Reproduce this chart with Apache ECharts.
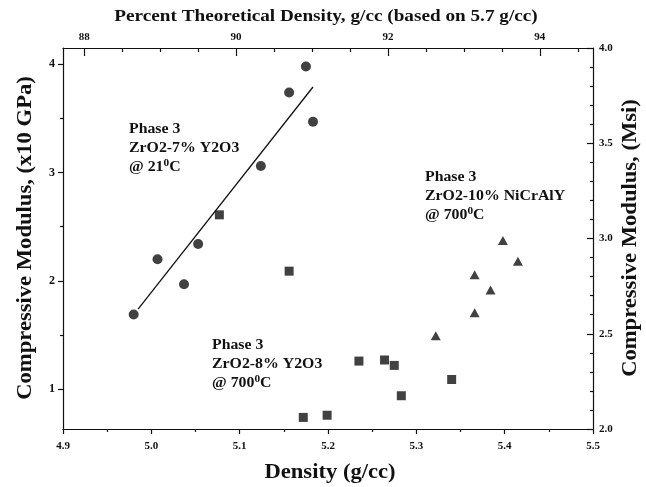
<!DOCTYPE html>
<html><head><meta charset="utf-8">
<script src="https://cdn.jsdelivr.net/npm/echarts@6/dist/echarts.min.js"></script>
<style>html,body{margin:0;padding:0;background:#fff}#c{width:646px;height:487px}</style>
</head><body><div id="c"></div>
<script>
// Phase 3 ZrO2-7% Y2O3 @ 21 C (circles)
const circleX = [4.980, 5.007, 5.037, 5.053, 5.124, 5.156, 5.175, 5.183];
const circleY = [1.69, 2.20, 1.97, 2.34, 3.06, 3.74, 3.98, 3.47];
// Phase 3 ZrO2-8% Y2O3 @ 700 C (squares)
const squareX = [5.077, 5.156, 5.172, 5.199, 5.235, 5.264, 5.275, 5.283, 5.340];
const squareY = [2.61, 2.09, 0.74, 0.76, 1.26, 1.27, 1.22, 0.94, 1.09];
// Phase 3 ZrO2-10% NiCrAlY @ 700 C (triangles, right axis Msi)
const triX = [5.322, 5.366, 5.366, 5.384, 5.398, 5.415];
const triMsi = [2.49, 2.61, 2.81, 2.73, 2.99, 2.88];
// fitted line endpoints
const fitX = [4.985, 5.183];
const fitY = [1.74, 3.79];
// tick labels
const topLabels = [88, 90, 92, 94];
const topMinor = [88.5, 89, 89.5, 90.5, 91, 91.5, 92.5, 93, 93.5, 94.5];
const leftLabels = [1, 2, 3, 4];
const leftMinor = [1.5, 2.5, 3.5];

const zip = (a, b) => a.map((v, i) => [v, b[i]]);
const INK = '#111';
const SERIF = '"Liberation Serif", "Times New Roman", serif';
const lineStyle = { color: INK, width: 1.2 };
const tickFont = { color: INK, fontFamily: SERIF, fontWeight: 'bold', fontSize: 11 };

const chart = echarts.init(document.getElementById('c'), null, { renderer: 'canvas' });

const annRich = {
  b: { fontFamily: SERIF, fontWeight: 'bold', fontSize: 14, lineHeight: 19, fill: INK, color: INK },
  s: { fontFamily: SERIF, fontWeight: 'bold', fontSize: 10, lineHeight: 16, fill: INK, color: INK, verticalAlign: 'top' }
};
function ann(x, y, l1, l2, temp) {
  return {
    type: 'text', x: x, y: y, scaleX: 1.13, scaleY: 1,
    style: {
      text: '{b|' + l1 + '}\n{b|' + l2 + '}\n{b|@ ' + temp + '}{s|0}{b|C}',
      rich: annRich, align: 'left', verticalAlign: 'top', fill: INK
    }
  };
}
function title(x, y, text, size, rot) {
  return {
    type: 'text', x: x, y: y, rotation: rot || 0, scaleX: 1.13, scaleY: 1,
    style: { text: text, fill: INK, fontFamily: SERIF, fontWeight: 'bold', fontSize: size,
             align: 'center', verticalAlign: 'middle' }
  };
}

chart.setOption({
  animation: false,
  backgroundColor: '#fff',
  grid: { left: 63, top: 48, width: 530, height: 381, containLabel: false },
  xAxis: [
    { type: 'value', position: 'bottom', min: 4.9, max: 5.5, interval: 0.1,
      axisLine: { show: true, lineStyle: lineStyle },
      axisTick: { show: true, inside: false, length: 5, lineStyle: lineStyle },
      minorTick: { show: true, splitNumber: 2, length: 3, lineStyle: lineStyle },
      axisLabel: Object.assign({ margin: 12, formatter: v => v.toFixed(1) }, tickFont),
      splitLine: { show: false } },
    { type: 'value', position: 'top', min: 87.72, max: 94.70,
      axisLine: { show: true, lineStyle: lineStyle },
      axisTick: { show: true, inside: true, length: 8, customValues: topLabels, lineStyle: lineStyle },
      axisLabel: Object.assign({ margin: 5, customValues: topLabels }, tickFont),
      splitLine: { show: false } },
    { type: 'value', position: 'top', min: 87.72, max: 94.70,
      axisLine: { show: false },
      axisTick: { show: true, inside: true, length: 4, customValues: topMinor, lineStyle: lineStyle },
      axisLabel: { show: false },
      splitLine: { show: false } }
  ],
  yAxis: [
    { type: 'value', position: 'left', min: 0.633, max: 4.15,
      axisLine: { show: true, lineStyle: lineStyle },
      axisTick: { show: true, inside: false, length: 5, customValues: leftLabels, lineStyle: lineStyle },
      axisLabel: Object.assign({ margin: 8, customValues: leftLabels }, tickFont, { fontSize: 12 }),
      splitLine: { show: false } },
    { type: 'value', position: 'right', min: 2, max: 4, interval: 0.5,
      axisLine: { show: true, lineStyle: lineStyle },
      axisTick: { show: true, inside: true, length: 6, lineStyle: lineStyle },
      minorTick: { show: true, splitNumber: 5, length: 3, lineStyle: lineStyle },
      axisLabel: Object.assign({ margin: 6, formatter: v => v.toFixed(1) }, tickFont),
      splitLine: { show: false } },
    { type: 'value', position: 'left', min: 0.633, max: 4.15,
      axisLine: { show: false },
      axisTick: { show: true, inside: false, length: 3, customValues: leftMinor, lineStyle: lineStyle },
      axisLabel: { show: false },
      splitLine: { show: false } }
  ],
  series: [
    { type: 'line', name: 'fit', xAxisIndex: 0, yAxisIndex: 0, data: zip(fitX, fitY),
      showSymbol: false, symbol: 'none', lineStyle: { color: INK, width: 1.3 }, z: 2 },
    { type: 'scatter', name: '7% Y2O3 21C', xAxisIndex: 0, yAxisIndex: 0, data: zip(circleX, circleY),
      symbol: 'circle', symbolSize: 10, itemStyle: { color: INK }, z: 3 },
    { type: 'scatter', name: '8% Y2O3 700C', xAxisIndex: 0, yAxisIndex: 0, data: zip(squareX, squareY),
      symbol: 'rect', symbolSize: 9, itemStyle: { color: INK }, z: 3 },
    { type: 'scatter', name: '10% NiCrAlY 700C', xAxisIndex: 0, yAxisIndex: 1, data: zip(triX, triMsi),
      symbol: 'triangle', symbolSize: [10, 9], itemStyle: { color: INK }, z: 3 }
  ],
  graphic: [
    title(326, 17, 'Percent Theoretical Density, g/cc (based on 5.7 g/cc)', 17, 0),
    title(330, 473, 'Density (g/cc)', 20, 0),
    title(26, 238, 'Compressive Modulus, (x10 GPa)', 20, Math.PI / 2),
    title(631, 238, 'Compressive Modulus, (Msi)', 20, Math.PI / 2),
    ann(129, 120, 'Phase 3', 'ZrO2-7% Y2O3', '21'),
    ann(212, 336, 'Phase 3', 'ZrO2-8% Y2O3', '700'),
    ann(425, 168, 'Phase 3', 'ZrO2-10% NiCrAlY', '700')
  ]
});
</script>
</body></html>
